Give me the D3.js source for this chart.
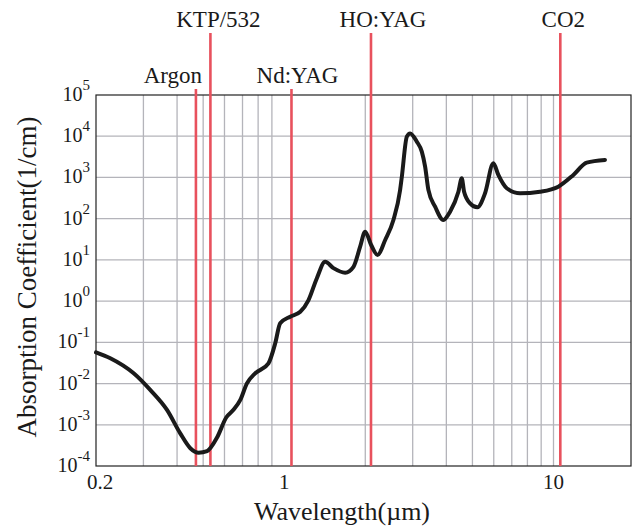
<!DOCTYPE html>
<html>
<head>
<meta charset="utf-8">
<script src="https://cdn.jsdelivr.net/npm/d3@7"></script>
<style>
  body { margin: 0; background: #fff; }
  svg text { font-family: "Liberation Serif", "Times New Roman", serif; fill: #1a1a1a; }
</style>
</head>
<body>
<svg id="chart" width="633" height="530"></svg>
<script>
// absorption curve (wavelength in µm, coefficient in 1/cm)
const wavelength = [0.2, 0.226, 0.276, 0.318, 0.367, 0.411, 0.448, 0.481, 0.517, 0.563,
  0.609, 0.648, 0.687, 0.727, 0.78, 0.874, 0.926, 0.966, 1.052, 1.147,
  1.231, 1.322, 1.419, 1.524, 1.684, 1.808, 1.914, 1.998, 2.103, 2.22,
  2.371, 2.544, 2.694, 2.734, 2.853, 2.935, 3.108, 3.243, 3.336, 3.431,
  3.634, 3.9, 4.13, 4.435, 4.564, 4.655, 4.9, 5.216, 5.569, 5.979,
  6.24, 6.706, 7.51, 8.91, 10.42, 11.85, 13.28, 15.53];
const absorption = [0.057, 0.041, 0.0177, 0.007, 0.00229, 6.2e-4, 2.7e-4, 2.1e-4, 2.3e-4, 4.9e-4,
  1.5e-3, 2.3e-3, 4.0e-3, 0.0101, 0.0177, 0.031, 0.095, 0.29, 0.42, 0.55,
  1.06, 3.6, 9.0, 6.3, 4.9, 6.8, 20.9, 48.3, 23, 13.2,
  30.4, 93, 497, 1043, 9750, 11700, 7380, 4220, 1824, 497,
  195, 93, 148, 451, 955, 451, 236, 189, 413, 2205,
  1147, 546, 413, 451, 597, 1147, 2280, 2650];

// laser lines
const laserNames = ["Argon", "KTP/532", "Nd:YAG", "HO:YAG", "CO2"];
const laserWavelengths = [0.47, 0.532, 1.064, 2.1, 10.6];

// axes
const yExponents = [-4, -3, -2, -1, 0, 1, 2, 3, 4, 5];
const xTickValues = [0.2, 1, 10];
const xTickLabels = ["0.2", "1", "10"];
const gridWavelengths = [0.3, 0.4, 0.5, 0.6, 0.7, 0.8, 0.9, 2, 3, 4, 5, 6, 7, 8, 9, 10];

const svg = d3.select("#chart");
const plotLeft = 96, plotRight = 631, plotTop = 95, plotBottom = 466;

const x = d3.scaleLog().domain([0.2, 19.4]).range([plotLeft, plotRight]);
const y = d3.scaleLog().domain([1e-4, 1e5]).range([plotBottom, plotTop]);

// vertical grid
svg.append("g").selectAll("line")
  .data(gridWavelengths)
  .join("line")
  .attr("x1", d => x(d)).attr("x2", d => x(d))
  .attr("y1", plotTop).attr("y2", plotBottom)
  .attr("stroke", "#b4b4ba").attr("stroke-width", 1.3);

// horizontal grid
svg.append("g").selectAll("line")
  .data(yExponents.slice(1, -1))
  .join("line")
  .attr("x1", plotLeft).attr("x2", plotRight)
  .attr("y1", d => y(Math.pow(10, d))).attr("y2", d => y(Math.pow(10, d)))
  .attr("stroke", "#b4b4ba").attr("stroke-width", 1.3);

// frame
svg.append("rect")
  .attr("x", plotLeft).attr("y", plotTop)
  .attr("width", plotRight - plotLeft).attr("height", plotBottom - plotTop)
  .attr("fill", "none").attr("stroke", "#222").attr("stroke-width", 1.2);

// laser lines and their names
const tallLines = ["KTP/532", "HO:YAG", "CO2"];
const labelShift = { "Argon": -23, "KTP/532": 8, "Nd:YAG": 6, "HO:YAG": 12, "CO2": 3 };
const lasers = laserNames.map((n, i) => ({ name: n, w: laserWavelengths[i] }));

svg.append("g").selectAll("line")
  .data(lasers)
  .join("line")
  .attr("x1", d => x(d.w)).attr("x2", d => x(d.w))
  .attr("y1", d => tallLines.includes(d.name) ? 33 : 89)
  .attr("y2", plotBottom)
  .attr("stroke", "#e8515d").attr("stroke-width", 2.6);

svg.append("g").selectAll("text")
  .data(lasers)
  .join("text")
  .attr("x", d => x(d.w) + labelShift[d.name])
  .attr("y", d => tallLines.includes(d.name) ? 27 : 83)
  .attr("text-anchor", "middle")
  .attr("font-size", 23)
  .text(d => d.name);

// absorption curve
const line = d3.line()
  .x(d => x(d[0]))
  .y(d => y(d[1]))
  .curve(d3.curveMonotoneX);

svg.append("path")
  .datum(wavelength.map((w, i) => [w, absorption[i]]))
  .attr("d", line)
  .attr("fill", "none")
  .attr("stroke", "#1a1a1a")
  .attr("stroke-width", 4)
  .attr("stroke-linejoin", "round")
  .attr("stroke-linecap", "round");

// y tick labels: 10 with superscript exponent
const yLabels = svg.append("g").selectAll("text")
  .data(yExponents)
  .join("text")
  .attr("x", 90)
  .attr("y", d => y(Math.pow(10, d)) + 6)
  .attr("text-anchor", "end")
  .attr("font-size", 20);
yLabels.append("tspan").text("10");
yLabels.append("tspan")
  .attr("dy", -11)
  .attr("font-size", 15)
  .text(d => d < 0 ? "-" + Math.abs(d) : d);

// x tick labels
svg.append("g").selectAll("text")
  .data(xTickValues)
  .join("text")
  .attr("x", (d, i) => x(d) + (i === 0 ? 4 : 0))
  .attr("y", 489)
  .attr("text-anchor", "middle")
  .attr("font-size", 21)
  .text((d, i) => xTickLabels[i]);

// axis titles
svg.append("text")
  .attr("x", 342).attr("y", 520)
  .attr("text-anchor", "middle")
  .attr("font-size", 26)
  .text("Wavelength(µm)");

svg.append("text")
  .attr("transform", "translate(36,277) rotate(-90)")
  .attr("text-anchor", "middle")
  .attr("font-size", 27)
  .text("Absorption Coefficient(1/cm)");
</script>
</body>
</html>
